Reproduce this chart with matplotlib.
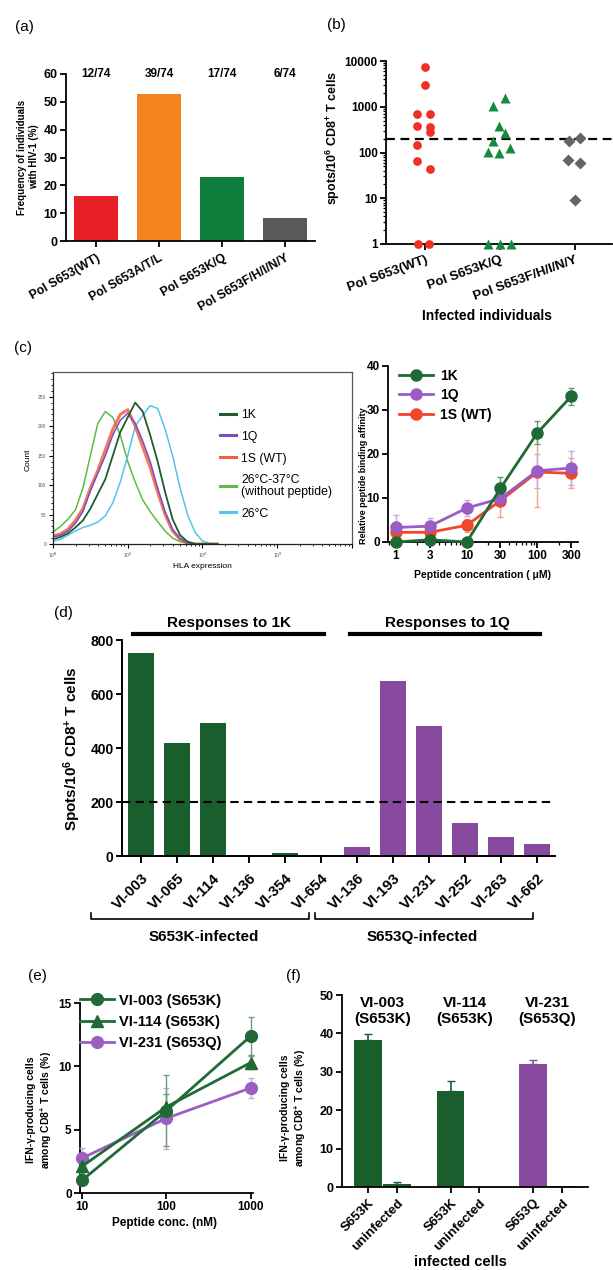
import numpy as np
import matplotlib
matplotlib.use('Agg')
import matplotlib.pyplot as plt
from matplotlib.lines import Line2D
from matplotlib.ticker import LogLocator, NullFormatter, MultipleLocator, NullLocator

plt.rcParams['font.family'] = ['Liberation Sans', 'DejaVu Sans']
plt.rcParams['font.weight'] = 'bold'
plt.rcParams['mathtext.fontset'] = 'custom'
plt.rcParams['mathtext.rm'] = 'Liberation Sans:bold'
plt.rcParams['mathtext.bf'] = 'Liberation Sans:bold'
plt.rcParams['mathtext.it'] = 'Liberation Sans:bold:italic'
plt.rcParams['axes.linewidth'] = 1.3

# ---------------- data ----------------
# (a)
a_categories = ['Pol S653(WT)', 'Pol S653A/T/L', 'Pol S653K/Q', 'Pol S653F/H/I/N/Y']
a_counts = [12, 39, 17, 6]
a_total = 74
a_colors = ['#E82127', '#F4831F', '#0F7D3C', '#58595B']

# (b)
b_categories = ['Pol S653(WT)', 'Pol S653K/Q', 'Pol S653F/H/I/N/Y']
b_wt = [7500, 3000, 680, 680, 380, 360, 275, 145, 66, 44, 1, 1]
b_wt_dx = [0, 0, -0.1, 0.07, -0.1, 0.07, 0.07, -0.1, -0.1, 0.07, -0.09, 0.05]
b_kq = [1520, 1040, 380, 270, 175, 105, 100, 127, 1, 1, 1]
b_kq_dx = [0.07, -0.09, -0.01, 0.07, -0.09, -0.16, -0.01, 0.14, -0.16, 0.0, 0.15]
b_fh = [175, 205, 69, 58, 9.1]
b_fh_dx = [-0.08, 0.07, -0.09, 0.07, 0.0]
b_cutoff = 200

# (c) left - flow histograms (log10 HLA expression vs count)
c_logx = [0.0, 0.1, 0.2, 0.3, 0.4, 0.5, 0.6, 0.7, 0.8, 0.9, 1.0, 1.1,
          1.2, 1.3, 1.4, 1.5, 1.6, 1.7, 1.8, 1.9, 2.0, 2.1, 2.2]
hist_nopep = [20, 30, 42, 58, 95, 150, 205, 225, 215, 185, 140, 105, 75, 55, 38, 22, 10, 4, 1, 0, 0, 0, 0]
hist_26 = [5, 8, 15, 22, 28, 32, 37, 48, 70, 105, 150, 200, 218, 235, 230, 195, 150, 95, 50, 20, 5, 1, 0]
hist_1S = [14, 17, 25, 40, 60, 95, 125, 160, 195, 220, 228, 200, 165, 130, 88, 50, 22, 8, 2, 0, 0, 0, 0]
hist_1Q = [12, 15, 22, 35, 55, 90, 120, 150, 185, 210, 222, 205, 175, 140, 95, 55, 25, 9, 2, 0, 0, 0, 0]
hist_1K = [8, 12, 18, 28, 40, 60, 85, 110, 150, 190, 215, 240, 225, 185, 140, 88, 42, 15, 4, 0, 0, 0, 0]

# (c) right
c_conc = [1, 3, 10, 30, 100, 300]
aff_1K = [0, 0.5, 0, 12.2, 24.8, 33.1]
err_1K = [0.3, 0.3, 0.3, 2.6, 2.6, 2.0]
aff_1Q = [3.3, 3.6, 7.7, 9.9, 16.2, 16.8]
err_1Q = [2.8, 1.9, 1.9, 1.2, 3.9, 3.8]
aff_1S = [2.2, 2.2, 3.8, 9.4, 15.9, 15.6]
err_1S = [1.0, 1.0, 1.5, 3.8, 8.0, 3.4]

# (d)
d_labels_1K = ['VI-003', 'VI-065', 'VI-114', 'VI-136', 'VI-354', 'VI-654']
d_labels_1Q = ['VI-136', 'VI-193', 'VI-231', 'VI-252', 'VI-263', 'VI-662']
d_1K = [752, 417, 491, 0, 10, 2]
d_1Q = [32, 649, 481, 121, 69, 44]
d_cutoff = 200

# (e)
e_conc = [10, 100, 1000]
e_003 = [1.0, 6.5, 12.4]
e_003_err = [0.3, 2.8, 1.5]
e_114 = [2.1, 6.8, 10.3]
e_114_err = [0.5, 1.0, 0.5]
e_231 = [2.75, 5.9, 8.3]
e_231_err = [0.8, 2.4, 0.8]

# (f)
f_groups = ['VI-003\n(S653K)', 'VI-114\n(S653K)', 'VI-231\n(S653Q)']
f_labels = ['S653K', 'uninfected', 'S653K', 'uninfected', 'S653Q', 'uninfected']
f_vals = [38.2, 0.9, 25.1, 0.0, 32.1, 0.2]
f_err = [1.7, 0.4, 2.5, 0.0, 1.0, 0.0]

GREEN_D = '#1B5E2E'
PURPLE = '#884A9E'

# ---------------- figure ----------------
W, H = 613, 1270
fig = plt.figure(figsize=(W / 100, H / 100), dpi=100)
fig.patch.set_facecolor('white')


def pax(l, t, r, b):
    return fig.add_axes([l / W, 1 - b / H, (r - l) / W, (b - t) / H])


def ftext(x, y, s, **kw):
    kw.setdefault('ha', 'center')
    kw.setdefault('va', 'center')
    return fig.text(x / W, 1 - y / H, s, **kw)


def gp(ax, lw=1.3, size=9):
    ax.spines['top'].set_visible(False)
    ax.spines['right'].set_visible(False)
    ax.spines['left'].set_linewidth(lw)
    ax.spines['bottom'].set_linewidth(lw)
    ax.tick_params(which='major', width=lw, length=4, labelsize=size, pad=2)
    ax.tick_params(which='minor', width=lw * 0.7, length=2)
    ax.set_facecolor('none')


# ===== (a) =====
axA = pax(66, 74, 315, 241)
gp(axA, size=9)
xa = np.arange(len(a_categories))
a_freq = [c / a_total * 100 for c in a_counts]
axA.bar(xa, a_freq, width=0.7, color=a_colors)
axA.set_xlim(-0.48, 3.48)
axA.set_ylim(0, 60)
axA.set_yticks(range(0, 61, 10))
axA.set_xticks(xa)
axA.set_xticklabels(a_categories, rotation=30, ha='right', rotation_mode='anchor', fontsize=8.8)
axA.tick_params(axis='x', pad=4)
for xi, c in zip(xa, a_counts):
    axA.text(xi, 60, f'{c}/{a_total}', ha='center', va='center', fontsize=8.5)
ftext(28, 157, 'Frequency of individuals\nwith HIV-1 (%)', rotation=90, fontsize=7, linespacing=1.2)
ftext(24, 27, '(a)', fontsize=11, fontweight='normal')

# ===== (b) =====
axB = pax(386, 61, 612, 244)
gp(axB, size=8.5)
axB.set_yscale('log')
axB.set_ylim(1, 10000)
axB.set_xlim(-0.52, 2.5)
axB.set_yticks([1, 10, 100, 1000, 10000])
axB.set_yticklabels(['1', '10', '100', '1000', '10000'])
axB.yaxis.set_minor_locator(LogLocator(base=10, subs=np.arange(2, 10)))
axB.yaxis.set_minor_formatter(NullFormatter())
axB.plot([0 + d for d in b_wt_dx], b_wt, 'o', color='#EE3124', ms=6.3, mec='none', clip_on=False, zorder=4)
axB.plot([1 + d for d in b_kq_dx], b_kq, '^', color='#168A3E', ms=7.8, mec='none', clip_on=False, zorder=4)
axB.plot([2 + d for d in b_fh_dx], b_fh, 'D', color='#636466', ms=6.3, mec='none', clip_on=False, zorder=4)
axB.axhline(b_cutoff, color='black', lw=1.6, ls=(0, (4, 2.5)), zorder=3)
axB.set_xticks([0, 1, 2])
axB.set_xticklabels(b_categories, rotation=20, ha='right', rotation_mode='anchor', fontsize=9.5)
axB.tick_params(axis='x', pad=3)
ftext(333, 138, r'spots/10$^{6}$ CD8$^{+}$ T cells', rotation=90, fontsize=9)
ftext(487, 316, 'Infected individuals', fontsize=10)
ftext(336, 25, '(b)', fontsize=11, fontweight='normal')

# ===== (c) left =====
axC1 = pax(53, 372, 352, 544)
axC1.set_facecolor('none')
for s in axC1.spines.values():
    s.set_linewidth(0.9)
    s.set_color('#555555')
axC1.spines['left'].set_color('#222222')
axC1.spines['bottom'].set_color('#222222')
axC1.set_xscale('log')
axC1.set_xlim(1, 1e4)
axC1.set_ylim(0, 292)
xh = [10 ** v for v in c_logx]
axC1.plot(xh, hist_nopep, color='#5DBB46', lw=1.1)
axC1.plot(xh, hist_26, color='#54C5EC', lw=1.1)
axC1.plot(xh, hist_1S, color='#F2603F', lw=2.2, alpha=0.85)
axC1.plot(xh, hist_1Q, color='#7A4FBF', lw=1.1)
axC1.plot(xh, hist_1K, color='#1D5C2E', lw=1.3)
axC1.set_yticks(range(0, 251, 50))
axC1.set_yticklabels([str(v) for v in range(0, 251, 50)], fontweight='normal')
axC1.yaxis.set_minor_locator(MultipleLocator(10))
axC1.set_xticks([1, 10, 100, 1000, 10000])
axC1.set_xticklabels(['10$^0$', '10$^1$', '10$^2$', '10$^3$', ''])
axC1.xaxis.set_minor_locator(LogLocator(base=10, subs=np.arange(2, 10)))
axC1.xaxis.set_minor_formatter(NullFormatter())
axC1.tick_params(which='major', length=3, width=0.8, labelsize=3.5, labelcolor='#555555', pad=2)
axC1.tick_params(which='minor', length=1.5, width=0.6)
for lab in axC1.get_xticklabels() + axC1.get_yticklabels():
    lab.set_fontweight('normal')
c1_handles = [Line2D([], [], color=c, lw=2.2) for c in ['#1D5C2E', '#7A4FBF', '#F2603F', '#5DBB46', '#54C5EC']]
c1_labels = ['1K', '1Q', '1S (WT)', '26°C-37°C\n(without peptide)', '26°C']
legC1 = axC1.legend(c1_handles, c1_labels, loc='upper left', bbox_to_anchor=(0.56, 0.785),
                    frameon=False, borderpad=0, borderaxespad=0, handlelength=1.3,
                    handletextpad=0.4, labelspacing=0.8,
                    prop={'size': 8.8, 'weight': 'normal', 'family': ['Liberation Sans', 'DejaVu Sans']})
for t in legC1.get_texts():
    t.set_linespacing(0.95)
ftext(28, 460, 'Count', rotation=90, fontsize=6, fontweight='normal')
ftext(202, 567, 'HLA expression', fontsize=6, fontweight='normal')
ftext(23, 348, '(c)', fontsize=11, fontweight='normal')

# ===== (c) right =====
axC2 = pax(388, 366, 578, 542)
gp(axC2, size=8.5)
axC2.set_xscale('log')
axC2.set_xlim(0.77, 375)
axC2.set_ylim(0, 40)
axC2.set_yticks([0, 10, 20, 30, 40])
axC2.set_xticks(c_conc)
axC2.set_xticklabels([str(v) for v in c_conc])
axC2.xaxis.set_minor_locator(LogLocator(base=10, subs=np.arange(2, 10)))
axC2.xaxis.set_minor_formatter(NullFormatter())
series_c = [(aff_1S, err_1S, '#F0462B', '#F7A08C'),
            (aff_1Q, err_1Q, '#9A5CC6', '#C9A6E6'),
            (aff_1K, err_1K, '#1E6A35', '#5E9A6F')]
for y, e, col, ecol in series_c:
    axC2.errorbar(c_conc, y, yerr=e, fmt='none', ecolor=ecol, elinewidth=1, capsize=2.5, clip_on=False, zorder=3)
    axC2.plot(c_conc, y, '-o', color=col, lw=2, ms=8, clip_on=False, zorder=4)
c2_handles = [Line2D([], [], color=c, lw=2, marker='o', ms=8) for c in ['#1E6A35', '#9A5CC6', '#F0462B']]
axC2.legend(c2_handles, ['1K', '1Q', '1S (WT)'], loc='upper left', bbox_to_anchor=(0.06, 0.985),
            frameon=False, borderpad=0, borderaxespad=0, handlelength=2.4, handletextpad=0.5,
            labelspacing=0.4, prop={'size': 10, 'weight': 'bold'})
ftext(363, 476, 'Relative peptide binding affinity', rotation=90, fontsize=6.5)
ftext(483, 575, 'Peptide concentration ( μM)', fontsize=7.5)

# ===== (d) =====
axD = pax(122, 640, 555, 856)
gp(axD, lw=1.4, size=10)
d_vals = d_1K + d_1Q
d_labels = d_labels_1K + d_labels_1Q
xd = np.arange(len(d_vals))
d_colors = [GREEN_D] * len(d_1K) + [PURPLE] * len(d_1Q)
axD.bar(xd, d_vals, width=0.7, color=d_colors)
axD.set_xlim(-0.53, 11.5)
axD.set_ylim(0, 800)
axD.set_yticks(range(0, 801, 200))
axD.set_xticks(xd)
axD.set_xticklabels(d_labels, rotation=45, ha='right', rotation_mode='anchor', fontsize=10.8)
axD.tick_params(axis='x', length=5, pad=6)
axD.axhline(d_cutoff, color='black', lw=1.5, ls=(0, (4, 2.5)), zorder=3)
trD = axD.get_xaxis_transform()
axD.plot([-0.22, 5.08], [1.026, 1.026], color='black', lw=3, transform=trD, clip_on=False)
axD.plot([5.8, 11.08], [1.026, 1.026], color='black', lw=3, transform=trD, clip_on=False)
axD.text(2.43, 1.08, 'Responses to 1K', transform=trD, ha='center', va='center', fontsize=11)
axD.text(8.5, 1.08, 'Responses to 1Q', transform=trD, ha='center', va='center', fontsize=11)
yb = (856 - 919) / 216
for x0, x1 in [(-1.39, 4.67), (4.83, 10.9)]:
    axD.plot([x0, x0, x1, x1], [yb + 0.03, yb, yb, yb + 0.03], color='black', lw=1.2,
             transform=trD, clip_on=False)
ftext(72, 749, r'Spots/10$^{6}$ CD8$^{+}$ T cells', rotation=90, fontsize=11)
ftext(204, 937, 'S653K-infected', fontsize=11)
ftext(422, 937, 'S653Q-infected', fontsize=11)
ftext(63, 613, '(d)', fontsize=11, fontweight='normal')

# ===== (e) =====
axE = pax(80, 1003, 253, 1193)
gp(axE, size=8.5)
axE.set_xscale('log')
axE.set_xlim(9.47, 1060)
axE.set_ylim(0, 15)
axE.set_yticks([0, 5, 10, 15])
axE.set_xticks(e_conc)
axE.set_xticklabels([str(v) for v in e_conc])
axE.xaxis.set_minor_locator(NullLocator())
E_GREEN = '#1F6A35'
E_PURPLE = '#9B5FC2'
series_e = [(e_231, e_231_err, E_PURPLE, '#C7A5E3', 'o'),
            (e_114, e_114_err, E_GREEN, '#6C9E78', '^'),
            (e_003, e_003_err, E_GREEN, '#6C9E78', 'o')]
for y, e, col, ecol, mk in series_e:
    axE.errorbar(e_conc, y, yerr=e, fmt='none', ecolor=ecol, elinewidth=1, capsize=2.5, clip_on=False, zorder=3)
    axE.plot(e_conc, y, '-', marker=mk, color=col, lw=2, ms=8.5, clip_on=False, zorder=4)
e_handles = [Line2D([], [], color=E_GREEN, lw=2, marker='o', ms=8.5),
             Line2D([], [], color=E_GREEN, lw=2, marker='^', ms=8.5),
             Line2D([], [], color=E_PURPLE, lw=2, marker='o', ms=8.5)]
axE.legend(e_handles, ['VI-003 (S653K)', 'VI-114 (S653K)', 'VI-231 (S653Q)'], loc='upper left',
           bbox_to_anchor=(0.0, 1.05), frameon=False, borderpad=0, borderaxespad=0,
           handlelength=2.3, handletextpad=0.4, labelspacing=0.5, prop={'size': 10.5, 'weight': 'bold'})
ftext(40, 1110, 'IFN-γ-producing cells\namong CD8$^{+}$ T cells (%)', rotation=90, fontsize=7.5, linespacing=1.3)
ftext(165, 1223, 'Peptide conc. (nM)', fontsize=8.5)
ftext(37, 976, '(e)', fontsize=11, fontweight='normal')

# ===== (f) =====
axF = pax(342, 995, 588, 1187)
gp(axF, size=9)
f_pos = np.array([g * 2.85 + k for g in range(len(f_groups)) for k in range(2)])
f_colors = [GREEN_D, GREEN_D, GREEN_D, GREEN_D, PURPLE, PURPLE]
axF.bar(f_pos, f_vals, width=0.95, color=f_colors)
for xp, v, er, col in zip(f_pos, f_vals, f_err, f_colors):
    if er > 0:
        axF.errorbar([xp], [v], yerr=[[0], [er]], fmt='none', ecolor=col,
                     elinewidth=1.2, capsize=3, zorder=3)
axF.set_xlim(-0.9, 7.6)
axF.set_ylim(0, 50)
axF.set_yticks(range(0, 51, 10))
axF.set_xticks(f_pos)
axF.set_xticklabels(f_labels, rotation=45, ha='right', rotation_mode='anchor', fontsize=9.5)
axF.tick_params(axis='x', pad=3)
for g, lab in enumerate(f_groups):
    axF.text(g * 2.85 + 0.5, 45.8, lab, ha='center', va='center', fontsize=11, linespacing=1.15)
ftext(294, 1108, 'IFN-γ-producing cells\namong CD8$^{+}$ T cells (%)', rotation=90, fontsize=7.5, linespacing=1.3)
ftext(460, 1262, 'infected cells', fontsize=10.5)
ftext(293, 976, '(f)', fontsize=11, fontweight='normal')

fig.savefig('out.png', dpi=100, facecolor='white')
